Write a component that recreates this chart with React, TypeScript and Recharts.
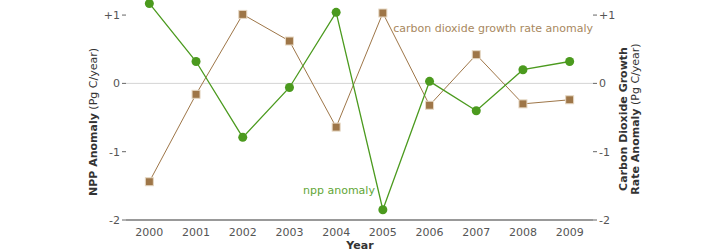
import { LineChart, Line, XAxis, YAxis, ReferenceLine } from "recharts";

const years = [2000, 2001, 2002, 2003, 2004, 2005, 2006, 2007, 2008, 2009];
const nppAnomaly = [1.17, 0.32, -0.79, -0.06, 1.04, -1.85, 0.03, -0.4, 0.2, 0.32];
const co2Anomaly = [-1.44, -0.16, 1.01, 0.62, -0.64, 1.03, -0.32, 0.42, -0.3, -0.24];
const yTicks = [-2, -1, 0, 1];

const data = years.map((year, i) => ({
  year,
  npp: nppAnomaly[i],
  co2: co2Anomaly[i],
}));

// tick marks sit between the years, not under them
const boundaryTicks = years.map((y) => y - 0.5).concat(years[years.length - 1] + 0.5);

const GREEN = "#4b9a1e";
const BROWN = "#9e7648";
const FONT = "'DejaVu Sans', sans-serif";

const fmtY = (v: number) => (v > 0 ? `+${v}` : `${v}`);

const Square = (props: any) => {
  const { cx, cy, index } = props;
  if (cx == null || cy == null) return null;
  return (
    <rect
      key={index}
      x={cx - 4}
      y={cy - 4}
      width={8}
      height={8}
      fill={BROWN}
      stroke="#e6d8c4"
      strokeWidth={1}
    />
  );
};

export default function App() {
  return (
    <div style={{ position: "relative", width: 720, height: 251, fontFamily: FONT }}>
      <style>{`body{margin:0}`}</style>
      <LineChart
        width={720}
        height={251}
        data={data}
        margin={{ top: 1.4, right: 0, bottom: 0, left: 0 }}
      >
        <XAxis
          xAxisId="b"
          dataKey="year"
          type="number"
          domain={[1999.5, 2009.5]}
          ticks={boundaryTicks}
          tick={false}
          height={0}
          axisLine={false}
          tickLine={{ stroke: "#999" }}
          tickSize={3}
        />
        <XAxis
          xAxisId="m"
          dataKey="year"
          type="number"
          domain={[1999.5, 2009.5]}
          ticks={years}
          height={31}
          axisLine={{ stroke: "#999", strokeWidth: 2 }}
          tickLine={false}
          tick={{ fill: "#555", fontSize: 11, fontFamily: FONT }}
          interval={0}
        />
        <YAxis
          yAxisId="l"
          domain={[-2, 1.2]}
          ticks={yTicks}
          width={126}
          axisLine={false}
          tickLine={{ stroke: "#666" }}
          tickSize={4}
          tickFormatter={fmtY}
          tick={{ fill: "#555", fontSize: 11, fontFamily: FONT }}
        />
        <YAxis
          yAxisId="r"
          orientation="right"
          type="number"
          domain={[-2, 1.2]}
          ticks={yTicks}
          width={127}
          axisLine={false}
          tickLine={{ stroke: "#666" }}
          tickSize={4}
          tickFormatter={fmtY}
          tick={{ fill: "#555", fontSize: 11, fontFamily: FONT }}
        />
        <ReferenceLine yAxisId="l" xAxisId="m" y={0} stroke="#d4d4d4" strokeWidth={1} />
        <Line
          xAxisId="m"
          yAxisId="r"
          dataKey="co2"
          stroke={BROWN}
          strokeWidth={1}
          dot={Square}
          isAnimationActive={false}
        />
        <Line
          xAxisId="m"
          yAxisId="l"
          dataKey="npp"
          stroke={GREEN}
          strokeWidth={1.3}
          dot={{ r: 4.5, fill: GREEN, stroke: GREEN, strokeWidth: 0 }}
          isAnimationActive={false}
        />
      </LineChart>
      <svg
        width={720}
        height={251}
        style={{ position: "absolute", left: 0, top: 0, pointerEvents: "none" }}
      >
        <text x={593} y={32} textAnchor="end" fill="#a8885e" fontSize={11} fontFamily={FONT}>
          carbon dioxide growth rate anomaly
        </text>
        <text x={303} y={194} fill="#62a636" fontSize={11} fontFamily={FONT}>
          npp anomaly
        </text>
        <text x={360} y={249} textAnchor="middle" fill="#333" fontSize={11} fontWeight="bold" fontFamily={FONT}>
          Year
        </text>
        <text
          transform="translate(97,122) rotate(-90)"
          textAnchor="middle"
          fill="#333"
          fontSize={11}
          fontFamily={FONT}
        >
          <tspan fontWeight="bold">NPP Anomaly</tspan>
          <tspan> (Pg C/year)</tspan>
        </text>
        <text
          transform="translate(627,119) rotate(-90)"
          textAnchor="middle"
          fill="#333"
          fontSize={11}
          fontWeight="bold"
          fontFamily={FONT}
        >
          Carbon Dioxide Growth
        </text>
        <text
          transform="translate(639,119) rotate(-90)"
          textAnchor="middle"
          fill="#333"
          fontSize={11}
          fontFamily={FONT}
        >
          <tspan fontWeight="bold">Rate Anomaly</tspan>
          <tspan> (Pg C/year)</tspan>
        </text>
      </svg>
    </div>
  );
}
